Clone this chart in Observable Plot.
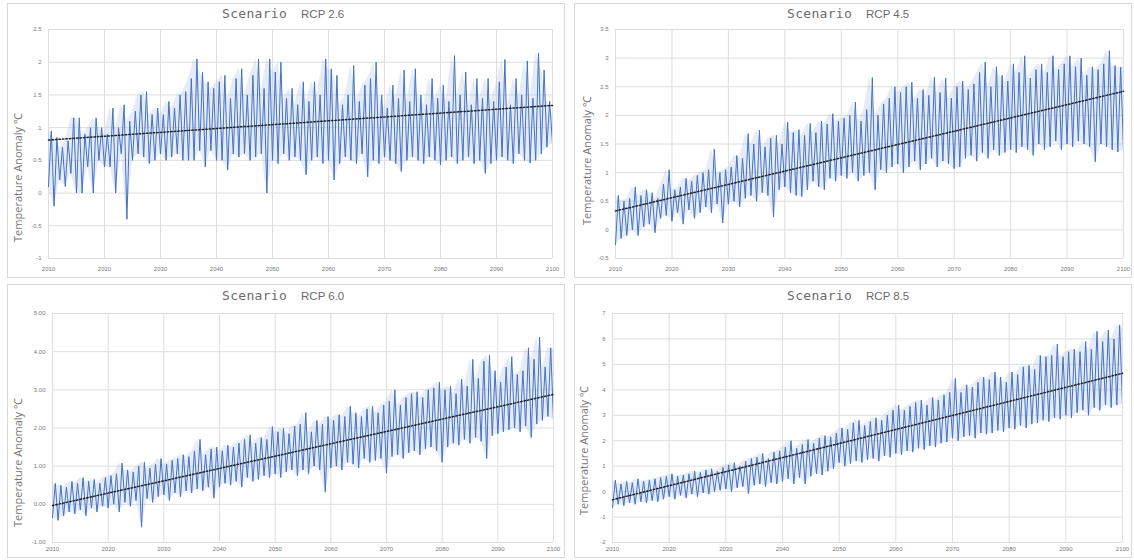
<!DOCTYPE html>
<html>
<head>
<meta charset="utf-8">
<script src="https://cdn.jsdelivr.net/npm/d3@7"></script>
<script src="https://cdn.jsdelivr.net/npm/@observablehq/plot@0.6"></script>
<style>
  html, body { margin: 0; padding: 0; background: #fff; }
  body { width: 1134px; height: 560px; position: relative; overflow: hidden; font-family: "Liberation Sans", Arial, sans-serif; }
  .frame { position: absolute; border: 1px solid #d9d9d9; box-sizing: border-box; }
  .plot { position: absolute; }
  .title { position: absolute; white-space: nowrap; color: #6b6b6b; }
  .title .s { font-family: "DejaVu Sans Mono", monospace; font-size: 13px; letter-spacing: 0.3px; }
  .title .r { font-family: "Liberation Sans", Arial, sans-serif; font-size: 11.5px; margin-left: 14px; }
  .ylab { position: absolute; white-space: nowrap; color: #777; font-size: 11px; font-family: "Open Sans", "Liberation Sans", sans-serif; transform: rotate(-90deg); transform-origin: center center; }
</style>
</head>
<body>
<script>
// ---------------- data ----------------
const scenarios = ["RCP 2.6", "RCP 4.5", "RCP 6.0", "RCP 8.5"];
const yearStart = 2010, yearEnd = 2100;
const decadeTicks = [2010, 2020, 2030, 2040, 2050, 2060, 2070, 2080, 2090, 2100];

// yearly high (seasonal peak) and low (seasonal trough) anomalies, 2010..2100
const hi26 = [0.95,0.85,0.7,0.8,1.15,1.15,0.9,1.0,1.15,1.0,
  0.9,1.3,1.0,1.35,1.1,1.25,1.5,1.55,1.2,1.3,
  1.2,1.4,1.3,1.5,1.55,1.75,2.05,1.85,1.7,1.6,
  1.7,1.8,1.45,1.75,1.9,1.5,1.8,2.05,1.6,2.05,
  1.85,2.0,1.45,1.6,1.35,1.7,1.4,1.7,1.5,2.05,
  1.9,1.8,1.35,1.5,1.95,1.4,1.65,1.75,2.0,1.5,
  1.3,1.65,1.45,1.88,1.4,1.9,1.5,1.35,1.75,1.45,
  1.65,1.4,2.1,1.5,1.85,1.35,1.75,1.45,1.75,1.4,
  1.7,2.04,1.35,1.75,1.5,2.02,1.45,2.14,1.88,1.4,1.2];
const lo26 = [0.1,-0.2,0.2,0.1,0.3,0.0,0.0,0.4,0.0,0.5,
  0.4,0.4,0.0,0.6,-0.4,0.5,0.6,0.55,0.45,0.5,
  0.6,0.5,0.55,0.6,0.5,0.5,0.5,0.65,0.4,0.65,
  0.5,0.5,0.35,0.6,0.55,0.6,0.5,0.55,0.6,0.0,
  0.5,0.45,0.6,0.5,0.55,0.5,0.28,0.5,0.55,0.45,
  0.5,0.2,0.45,0.55,0.5,0.45,0.6,0.25,0.5,0.45,
  0.55,0.5,0.45,0.33,0.5,0.55,0.5,0.45,0.55,0.5,
  0.43,0.5,0.55,0.45,0.5,0.55,0.45,0.5,0.3,0.45,
  0.5,0.55,0.5,0.45,0.6,0.5,0.46,0.5,0.6,0.7,0.75];
const hi45 = [0.6,0.5,0.55,0.75,0.6,0.7,0.65,0.55,0.8,1.05,
  0.7,0.75,0.9,0.85,0.95,1.0,1.05,1.41,1.0,1.05,
  1.1,1.3,1.25,1.68,1.5,1.74,1.45,1.6,1.65,1.5,
  1.88,1.7,1.75,1.65,1.86,1.7,1.9,1.85,2.03,1.9,
  1.95,2.0,2.23,1.9,2.1,2.66,2.0,2.2,2.3,2.5,
  2.4,2.5,2.58,2.3,2.45,2.35,2.67,2.4,2.65,2.3,
  2.5,2.6,2.45,2.55,2.75,2.93,2.5,2.85,2.7,2.6,
  2.9,2.75,3.04,2.65,2.8,2.9,2.75,3.04,2.8,2.9,
  3.04,2.85,3.0,2.7,2.85,2.8,2.9,3.13,2.87,2.84,2.84];
const lo45 = [-0.26,-0.15,-0.1,0.0,-0.1,0.05,0.1,-0.05,0.2,0.25,
  0.15,0.3,0.1,0.35,0.2,0.3,0.4,0.3,0.45,0.12,
  0.45,0.5,0.4,0.55,0.6,0.5,0.65,0.6,0.23,0.7,
  0.75,0.65,0.6,0.58,0.7,0.85,0.75,0.7,0.9,0.85,
  0.95,0.9,1.0,0.85,0.95,1.0,0.7,1.05,1.0,1.1,
  1.15,1.0,1.1,1.2,1.05,1.15,1.25,1.1,1.2,1.15,
  1.07,1.1,1.25,1.3,1.2,1.35,1.25,1.4,1.3,1.35,
  1.4,1.35,1.45,1.4,1.3,1.5,1.4,1.45,1.55,1.4,
  1.5,1.45,1.55,1.5,1.45,1.19,1.5,1.45,1.4,1.36,1.39];
const hi60 = [0.55,0.5,0.45,0.6,0.55,0.7,0.6,0.65,0.55,0.7,
  0.75,0.8,1.08,0.9,0.85,1.0,1.1,0.95,1.05,1.2,
  1.05,1.15,1.2,1.3,1.25,1.4,1.7,1.3,1.45,1.5,
  1.4,1.55,1.5,1.6,1.7,1.82,1.6,1.75,1.7,2.04,
  1.9,2.0,1.85,2.05,2.1,2.4,1.9,2.2,2.1,2.3,
  2.2,2.35,2.3,2.57,2.4,2.3,2.5,2.57,2.4,2.6,
  2.7,3.0,2.6,2.8,2.9,2.95,2.8,3.0,3.05,3.2,
  3.0,3.1,2.9,3.28,3.1,3.8,3.3,3.75,3.9,3.5,
  3.2,3.6,3.87,3.4,3.5,4.1,3.8,4.38,3.6,4.1,4.05];
const lo60 = [-0.35,-0.42,-0.3,-0.2,-0.25,-0.15,-0.3,-0.1,-0.2,-0.05,
  -0.1,0.0,-0.2,0.05,-0.05,0.1,-0.6,0.15,0.05,0.2,
  0.25,0.1,0.3,0.2,0.35,0.3,0.4,0.35,0.45,0.16,
  0.45,0.55,0.5,0.6,0.45,0.7,0.6,0.65,0.75,0.7,
  0.8,0.7,0.85,0.9,0.75,0.9,0.8,1.0,0.9,0.32,
  0.95,1.0,0.9,1.1,1.05,0.95,1.2,1.1,1.15,1.2,
  0.82,1.25,1.3,1.2,1.35,1.4,1.3,1.45,1.5,1.4,
  1.1,1.5,1.6,1.55,1.7,1.6,1.75,1.65,1.2,1.8,
  1.85,1.9,1.95,2.0,1.9,2.05,1.75,2.1,2.2,2.3,2.2];
const hi85 = [0.45,0.3,0.4,0.35,0.5,0.4,0.45,0.5,0.55,0.6,
  0.7,0.6,0.65,0.7,0.8,0.75,0.85,0.9,0.8,0.95,
  1.05,1.14,1.0,1.2,1.3,1.35,1.5,1.3,1.55,1.6,
  1.75,2.0,1.7,1.85,2.05,1.9,2.1,2.2,2.15,2.3,
  2.5,2.45,2.7,2.8,2.6,2.75,2.9,2.8,3.0,3.2,
  3.4,3.2,3.35,3.5,3.6,3.4,3.7,3.6,3.8,3.9,
  4.45,3.9,4.2,4.1,4.3,4.5,4.4,4.7,4.5,4.3,
  4.7,4.6,4.9,4.96,4.8,5.35,5.3,5.35,5.8,5.3,
  5.5,5.6,5.5,5.9,5.6,6.3,5.9,6.35,6.0,6.55,6.4];
const lo85 = [-0.63,-0.5,-0.55,-0.45,-0.5,-0.4,-0.45,-0.35,-0.4,-0.3,
  -0.2,-0.3,-0.15,-0.25,-0.1,-0.2,-0.05,-0.1,0.0,0.05,
  0.1,0.0,0.15,0.2,-0.08,0.25,0.3,0.2,0.35,0.3,
  0.4,0.5,0.3,0.55,0.3,0.6,0.7,0.65,0.8,0.9,
  1.14,1.0,1.1,1.2,1.14,1.25,1.3,1.2,1.4,1.35,
  1.5,1.45,1.6,1.55,1.7,1.65,1.8,1.75,1.9,1.95,
  2.1,2.0,2.15,2.2,2.1,2.3,2.25,2.3,2.4,2.35,
  2.5,2.45,2.6,2.5,2.65,2.7,2.8,2.75,2.9,2.85,
  3.0,2.9,3.1,3.2,3.0,3.3,3.2,3.4,3.3,3.4,3.4];

// linear trend line end values (2010, 2100)
const trend26 = [0.81, 1.34];
const trend45 = [0.33, 2.42];
const trend60 = [-0.03, 2.88];
const trend85 = [-0.32, 4.65];

// y tick values
const yTicks26 = [-1, -0.5, 0, 0.5, 1, 1.5, 2, 2.5];
const yTicks45 = [-0.5, 0, 0.5, 1, 1.5, 2, 2.5, 3, 3.5];
const yTicks60 = [-1, 0, 1, 2, 3, 4, 5];
const yTicks85 = [-2, -1, 0, 1, 2, 3, 4, 5, 6, 7];

// ---------------- layout ----------------
const panels = [
  {name: scenarios[0], hi: hi26, lo: lo26, trend: trend26, ticks: yTicks26, fmt: d => String(d),
   left: 0, top: 0, mt: 29, mb: 22, ml: 48, mr: 15, titleX: 222, titleY: 4, labX: 17, labY: 177,
   frame: [7, 3, 558, 275]},
  {name: scenarios[1], hi: hi45, lo: lo45, trend: trend45, ticks: yTicks45, fmt: d => String(d),
   left: 567, top: 0, mt: 29, mb: 22, ml: 48, mr: 11, titleX: 787, titleY: 4, labX: 586, labY: 160,
   frame: [574, 3, 558, 275]},
  {name: scenarios[2], hi: hi60, lo: lo60, trend: trend60, ticks: yTicks60, fmt: d => d.toFixed(2),
   left: 0, top: 280, mt: 33, mb: 18, ml: 52, mr: 14, titleX: 222, titleY: 286, labX: 17, labY: 462,
   frame: [7, 284, 558, 274]},
  {name: scenarios[3], hi: hi85, lo: lo85, trend: trend85, ticks: yTicks85, fmt: d => String(d),
   left: 567, top: 280, mt: 33, mb: 18, ml: 45, mr: 12, titleX: 787, titleY: 286, labX: 583, labY: 450,
   frame: [574, 284, 558, 274]}
];

const W = 567, H = 280;
const lineColor = "#4472c4";
const gridColor = "#dedede";

for (const p of panels) {
  const fr = document.createElement("div");
  fr.className = "frame";
  Object.assign(fr.style, {left: p.frame[0] + "px", top: p.frame[1] + "px", width: p.frame[2] + "px", height: p.frame[3] + "px"});
  document.body.appendChild(fr);

  const rows = p.hi.map((h, i) => ({year: yearStart + i, hi: h, lo: p.lo[i]}));
  const zig = [];
  rows.forEach(r => {
    zig.push({x: r.year, y: r.lo});
    zig.push({x: r.year + 0.5, y: r.hi});
  });
  const trendRows = [{x: yearStart, y: p.trend[0]}, {x: yearEnd, y: p.trend[1]}];
  const yDomain = [p.ticks[0], p.ticks[p.ticks.length - 1]];

  const chart = Plot.plot({
    width: W, height: H,
    marginTop: p.mt, marginBottom: p.mb, marginLeft: p.ml, marginRight: p.mr,
    style: {fontSize: "6px", color: "#7a7a7a", fontFamily: "Liberation Sans, Arial, sans-serif", background: "transparent"},
    x: {domain: [yearStart, yearEnd], ticks: decadeTicks, tickFormat: d => String(d), tickSize: 0, tickPadding: p.mb > 20 ? 8 : 4, label: null},
    y: {domain: yDomain, ticks: p.ticks, tickFormat: p.fmt, tickSize: 0, tickPadding: 7, label: null},
    marks: [
      Plot.ruleX(decadeTicks, {stroke: gridColor, strokeWidth: 1}),
      Plot.ruleY(p.ticks, {stroke: gridColor, strokeWidth: 1}),
      Plot.areaY(rows, {x: "year", y1: "lo", y2: "hi", fill: "#a9bfe6", fillOpacity: 0.3, clip: true}),
      Plot.lineY(zig, {x: "x", y: "y", stroke: lineColor, strokeWidth: 1, clip: true}),
      Plot.lineY(trendRows, {x: "x", y: "y", stroke: "#222", strokeWidth: 1.5, strokeDasharray: "1.5,2"})
    ]
  });
  const holder = document.createElement("div");
  holder.className = "plot";
  holder.style.left = p.left + "px";
  holder.style.top = p.top + "px";
  holder.appendChild(chart);
  document.body.appendChild(holder);

  const t = document.createElement("div");
  t.className = "title";
  t.style.left = p.titleX + "px";
  t.style.top = p.titleY + "px";
  t.innerHTML = '<span class="s">Scenario</span><span class="r"></span>';
  t.querySelector(".r").textContent = p.name;
  document.body.appendChild(t);

  const yl = document.createElement("div");
  yl.className = "ylab";
  yl.textContent = "Temperature Anomaly ℃";
  document.body.appendChild(yl);
  const w = yl.offsetWidth, h = yl.offsetHeight;
  yl.style.left = (p.labX - w / 2) + "px";
  yl.style.top = (p.labY - h / 2) + "px";
}
</script>
</body>
</html>
